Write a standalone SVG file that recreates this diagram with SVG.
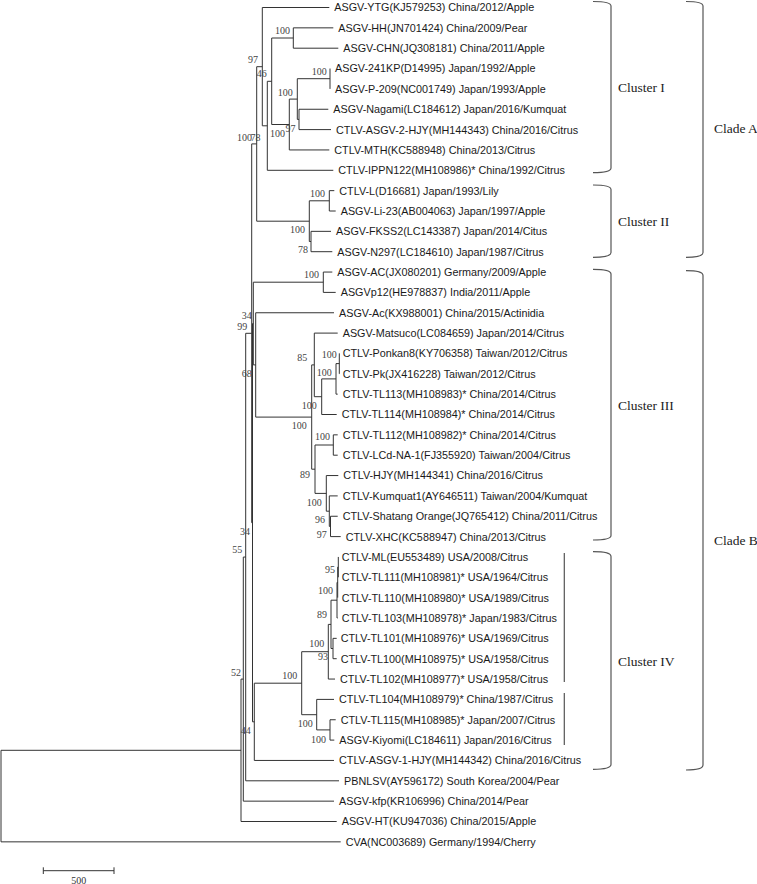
<svg xmlns="http://www.w3.org/2000/svg" width="757" height="884" viewBox="0 0 757 884">
<style>
.br{fill:none;stroke:#333;stroke-width:1}
.bk{fill:none;stroke:#555;stroke-width:1.2}
.lf{font-family:"Liberation Sans",Arial,sans-serif;font-size:10.8px;fill:#1a1a1a}
.bs{font-family:"Liberation Serif","Times New Roman",serif;font-size:10px;fill:#444;text-anchor:end}
.cl{font-family:"Liberation Serif","Times New Roman",serif;font-size:13.5px;fill:#222}
</style>
<rect width="757" height="884" fill="#fff"/>
<g id="connectors" class="br">
<path d="M333.3,27.85H293.3V48.2H338.3"/>
<path d="M330,68.55V88.9"/>
<path d="M328.3,109.25H299V129.6H331"/>
<path d="M330,78.7H297.3V119.4H299"/>
<path d="M297.3,99.1H289.3V149.95H329.3"/>
<path d="M293.3,38H271.7V124.5H289.3"/>
<path d="M271.7,81.3H267.3V170.3H333.3"/>
<path d="M329.3,7.5H262.3V125.8H267.3"/>
<path d="M334.3,190.65H329.3V211H335.7"/>
<path d="M331,231.35H311V251.7H332.3"/>
<path d="M329.3,200.8H309.3V241.5H311"/>
<path d="M262.3,66.7H256.7V221.2H309.3"/>
<path d="M332.3,272.05H323.3V292.4H335.7"/>
<path d="M339.5,353.45H339.3V373.8H339.5"/>
<path d="M339.3,363.6H336V394.15H337.7"/>
<path d="M336,378.9H321.7V414.5H336.7"/>
<path d="M337.7,333.1H314.3V396.7H321.7"/>
<path d="M337.7,434.85H333.3V455.2H337.7"/>
<path d="M337.7,516.25H330.5V536.6H340.7"/>
<path d="M337.7,495.9H329.3V526.4H330.5"/>
<path d="M338.3,475.55H326.3V511.2H329.3"/>
<path d="M333.3,445H315V493.4H326.3"/>
<path d="M314.3,364.9H311.7V469.2H315"/>
<path d="M334,312.75H255.7V417.1H311.7"/>
<path d="M323.3,282.2H253.3V364.9H255.7"/>
<path d="M338.3,556.95V577.3"/>
<path d="M338.3,567.1H337.7V597.65"/>
<path d="M337.7,582.4H337V618H337.7"/>
<path d="M336.7,638.35H333V658.7H336.7"/>
<path d="M337,600.2H331V648.5H333"/>
<path d="M331,624.4H328.3V679.05H335"/>
<path d="M335.7,719.75H330V740.1H334.3"/>
<path d="M334,699.4H316.7V729.9H330"/>
<path d="M328.3,651.7H301.7V714.7H316.7"/>
<path d="M301.7,683.2H254.3V760.45H334"/>
<path d="M253.3,323.6H252.5V721.8H254.3"/>
<path d="M256.7,143.9H251.7V522.7H252.5"/>
<path d="M251.7,333.3H245.7V780.8H339"/>
<path d="M245.7,557.05H243.3V801.15H334"/>
<path d="M243.3,679.1H241V821.5H336.7"/>
<path d="M241,750.3H1V841.85H340.7"/>
</g>
<g id="leaves" class="lf">
<g id="leaf1"><text x="334.3" y="11.4">ASGV-YTG(KJ579253) China/2012/Apple</text></g>
<g id="leaf2"><text x="338.3" y="31.75">ASGV-HH(JN701424) China/2009/Pear</text></g>
<g id="leaf3"><text x="343.3" y="52.1">ASGV-CHN(JQ308181) China/2011/Apple</text></g>
<g id="leaf4"><text x="335" y="72.45">ASGV-241KP(D14995) Japan/1992/Apple</text></g>
<g id="leaf5"><text x="335" y="92.8">ASGV-P-209(NC001749) Japan/1993/Apple</text></g>
<g id="leaf6"><text x="333.3" y="113.15">ASGV-Nagami(LC184612) Japan/2016/Kumquat</text></g>
<g id="leaf7"><text x="336" y="133.5">CTLV-ASGV-2-HJY(MH144343) China/2016/Citrus</text></g>
<g id="leaf8"><text x="334.3" y="153.85">CTLV-MTH(KC588948) China/2013/Citrus</text></g>
<g id="leaf9"><text x="338.3" y="174.2">CTLV-IPPN122(MH108986)* China/1992/Citrus</text></g>
<g id="leaf10"><text x="339.3" y="194.55">CTLV-L(D16681) Japan/1993/Lily</text></g>
<g id="leaf11"><text x="340.7" y="214.9">ASGV-Li-23(AB004063) Japan/1997/Apple</text></g>
<g id="leaf12"><text x="336" y="235.25">ASGV-FKSS2(LC143387) Japan/2014/Citus</text></g>
<g id="leaf13"><text x="337.3" y="255.6">ASGV-N297(LC184610) Japan/1987/Citrus</text></g>
<g id="leaf14"><text x="337.3" y="275.95">ASGV-AC(JX080201) Germany/2009/Apple</text></g>
<g id="leaf15"><text x="340.7" y="296.3">ASGVp12(HE978837) India/2011/Apple</text></g>
<g id="leaf16"><text x="339" y="316.65">ASGV-Ac(KX988001) China/2015/Actinidia</text></g>
<g id="leaf17"><text x="342.7" y="337">ASGV-Matsuco(LC084659) Japan/2014/Citrus</text></g>
<g id="leaf18"><text x="342.7" y="357.35">CTLV-Ponkan8(KY706358) Taiwan/2012/Citrus</text></g>
<g id="leaf19"><text x="342.7" y="377.7">CTLV-Pk(JX416228) Taiwan/2012/Citrus</text></g>
<g id="leaf20"><text x="342.7" y="398.05">CTLV-TL113(MH108983)* China/2014/Citrus</text></g>
<g id="leaf21"><text x="341.7" y="418.4">CTLV-TL114(MH108984)* China/2014/Citrus</text></g>
<g id="leaf22"><text x="342.7" y="438.75">CTLV-TL112(MH108982)* China/2014/Citrus</text></g>
<g id="leaf23"><text x="342.7" y="459.1">CTLV-LCd-NA-1(FJ355920) Taiwan/2004/Citrus</text></g>
<g id="leaf24"><text x="343.3" y="479.45">CTLV-HJY(MH144341) China/2016/Citrus</text></g>
<g id="leaf25"><text x="342.7" y="499.8">CTLV-Kumquat1(AY646511) Taiwan/2004/Kumquat</text></g>
<g id="leaf26"><text x="342.7" y="520.15">CTLV-Shatang Orange(JQ765412) China/2011/Citrus</text></g>
<g id="leaf27"><text x="345.7" y="540.5">CTLV-XHC(KC588947) China/2013/Citrus</text></g>
<g id="leaf28"><text x="341.7" y="560.85">CTLV-ML(EU553489) USA/2008/Citrus</text></g>
<g id="leaf29"><text x="341.7" y="581.2">CTLV-TL111(MH108981)* USA/1964/Citrus</text></g>
<g id="leaf30"><text x="341.7" y="601.55">CTLV-TL110(MH108980)* USA/1989/Citrus</text></g>
<g id="leaf31"><text x="341.7" y="621.9">CTLV-TL103(MH108978)* Japan/1983/Citrus</text></g>
<g id="leaf32"><text x="340.7" y="642.25">CTLV-TL101(MH108976)* USA/1969/Citrus</text></g>
<g id="leaf33"><text x="340.7" y="662.6">CTLV-TL100(MH108975)* USA/1958/Citrus</text></g>
<g id="leaf34"><text x="340" y="682.95">CTLV-TL102(MH108977)* USA/1958/Citrus</text></g>
<g id="leaf35"><text x="339" y="703.3">CTLV-TL104(MH108979)* China/1987/Citrus</text></g>
<g id="leaf36"><text x="340.7" y="723.65">CTLV-TL115(MH108985)* Japan/2007/Citrus</text></g>
<g id="leaf37"><text x="339.3" y="744">ASGV-Kiyomi(LC184611) Japan/2016/Citrus</text></g>
<g id="leaf38"><text x="339" y="764.35">CTLV-ASGV-1-HJY(MH144342) China/2016/Citrus</text></g>
<g id="leaf39"><text x="344" y="784.7">PBNLSV(AY596172) South Korea/2004/Pear</text></g>
<g id="leaf40"><text x="339" y="805.05">ASGV-kfp(KR106996) China/2014/Pear</text></g>
<g id="leaf41"><text x="341.7" y="825.4">ASGV-HT(KU947036) China/2015/Apple</text></g>
<g id="leaf42"><text x="345.7" y="845.75">CVA(NC003689) Germany/1994/Cherry</text></g>
</g>
<g id="support" class="bs">
<g id="n-C7"><text x="258" y="63">97</text></g>
<g id="n-C5"><text x="266.7" y="77">46</text></g>
<g id="n-HHCHN"><text x="290" y="34">100</text></g>
<g id="n-C3"><text x="326.7" y="75">100</text></g>
<g id="n-C2"><text x="292.7" y="96">100</text></g>
<g id="n-C1"><text x="285" y="137">100</text></g>
<g id="n-C4"><text x="295.5" y="132">97</text></g>
<g id="n-CladeA"><text x="252" y="141">100</text></g>
<g id="n-C6"><text x="260.5" y="141">78</text></g>
<g id="n-CL"><text x="325" y="197">100</text></g>
<g id="n-CII"><text x="305" y="233">100</text></g>
<g id="n-FK"><text x="308" y="253">78</text></g>
<g id="n-AC"><text x="319" y="278">100</text></g>
<g id="n-T3"><text x="251.7" y="318.5">34</text></g>
<g id="n-T1"><text x="247.3" y="329.8">99</text></g>
<g id="n-Ac"><text x="251.7" y="377">68</text></g>
<g id="n-M"><text x="307.3" y="361">85</text></g>
<g id="n-PP"><text x="336.7" y="358">100</text></g>
<g id="n-PPT"><text x="331.7" y="376">100</text></g>
<g id="n-PT4"><text x="316.7" y="409">100</text></g>
<g id="n-III"><text x="306.7" y="429">100</text></g>
<g id="n-TL"><text x="330" y="440">100</text></g>
<g id="n-L"><text x="310" y="478">89</text></g>
<g id="n-H"><text x="321.7" y="506">100</text></g>
<g id="n-K"><text x="325" y="523">96</text></g>
<g id="n-SX"><text x="326.7" y="538">97</text></g>
<g id="n-T2"><text x="250" y="535">34</text></g>
<g id="n-X245"><text x="242.3" y="553">55</text></g>
<g id="n-P2"><text x="335" y="573">95</text></g>
<g id="n-P"><text x="333" y="594">100</text></g>
<g id="n-A2"><text x="327" y="618">89</text></g>
<g id="n-U"><text x="324.3" y="647">100</text></g>
<g id="n-Q"><text x="328" y="660">93</text></g>
<g id="n-X243"><text x="241" y="676">52</text></g>
<g id="n-IV"><text x="297.3" y="679">100</text></g>
<g id="n-104"><text x="312.7" y="726.7">100</text></g>
<g id="n-K2"><text x="326" y="742.7">100</text></g>
<g id="n-X254"><text x="250.7" y="734">44</text></g>
</g>
<g id="brackets" class="bk">
<path d="M593,1.5Q611,1.5 611,6V168Q611,172.7 593,172.7"/>
<path d="M593,185Q611,185 611,189.5V252.5Q611,257.3 593,257.3"/>
<path d="M593,269.3Q611,269.3 611,274V535.5Q611,540 593,540"/>
<path d="M593,551.7Q611,551.7 611,556.5V764.5Q611,769.3 593,769.3"/>
<path d="M686,1.5Q703,1.5 703,6V252.5Q703,257.3 686,257.3"/>
<path d="M686,270.7Q703,270.7 703,275.5V765Q703,770 686,770"/>
<path d="M564.3,553V682M564.3,693V745"/>
</g>
<g id="labels" class="cl">
<text x="618" y="92">Cluster I</text>
<text x="618" y="226">Cluster II</text>
<text x="618" y="410">Cluster III</text>
<text x="618" y="665.5">Cluster IV</text>
<text x="714" y="133">Clade A</text>
<text x="714" y="545">Clade B</text>
</g>
<g id="scalebar">
<path d="M43.3,870.7H114M43.3,867.3V874M114,867.3V874" fill="none" stroke="#333" stroke-width="1"/>
<text x="78.7" y="883.5" text-anchor="middle" font-family="Liberation Serif,Times New Roman,serif" font-size="10" fill="#333">500</text>
</g>
</svg>
